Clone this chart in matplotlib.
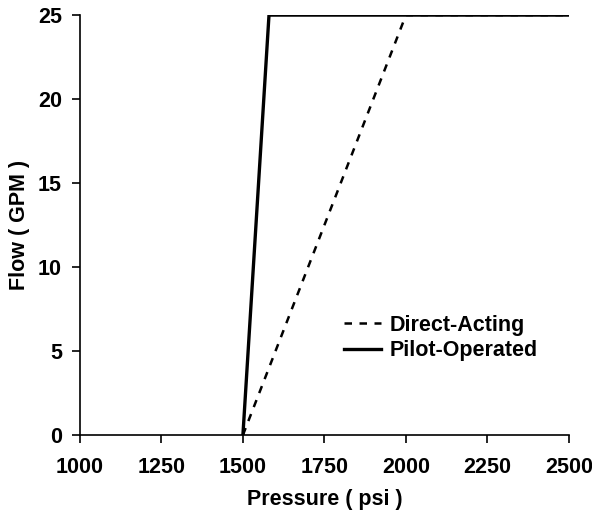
import matplotlib
matplotlib.use("Agg")
import matplotlib.pyplot as plt

plt.rcParams['font.family'] = ['Liberation Sans', 'DejaVu Sans']
plt.rcParams['font.weight'] = 'bold'

# data
direct_p = [1500, 2000, 2500]
direct_q = [0, 25, 25]
pilot_p = [1500, 1580, 2500]
pilot_q = [0, 25, 25]
xticks = [1000, 1250, 1500, 1750, 2000, 2250, 2500]
yticks = [0, 5, 10, 15, 20, 25]

fig = plt.figure(figsize=(5.92, 5.21), dpi=100)
ax = fig.add_axes([0.135, 0.165, 0.826, 0.806])

ax.plot(direct_p, direct_q, 'k--', lw=1.8, dashes=(3, 3), label='Direct-Acting')
ax.plot(pilot_p[:2], pilot_q[:2], 'k-', lw=2.4, label='Pilot-Operated')
ax.plot(pilot_p[1:], pilot_q[1:], 'k-', lw=1.8)

ax.set_xlim(1000, 2500)
ax.set_ylim(0, 25)
ax.set_xticks(xticks)
ax.set_yticks(yticks)
ax.spines['top'].set_visible(False)
ax.spines['right'].set_visible(False)
ax.spines['left'].set_linewidth(1.2)
ax.spines['bottom'].set_linewidth(1.2)
ax.tick_params(direction='out', length=6, width=1.2, labelsize=15.5)
ax.tick_params(axis='x', pad=10)
ax.tick_params(axis='y', pad=7)
for lab in ax.get_xticklabels() + ax.get_yticklabels():
    lab.set_fontweight('bold')

ax.set_xlabel('Pressure ( psi )', fontsize=15.5, fontweight='bold', labelpad=8)
ax.set_ylabel('Flow ( GPM )', fontsize=15.5, fontweight='bold', labelpad=6)

h, l = ax.get_legend_handles_labels()
ax.legend(h, l, loc='lower right', bbox_to_anchor=(0.975, 0.13), frameon=False,
          handlelength=1.7, handletextpad=0.4, labelspacing=0.2,
          prop={'weight': 'bold', 'size': 15.5})

fig.savefig('out.png', dpi=100)
